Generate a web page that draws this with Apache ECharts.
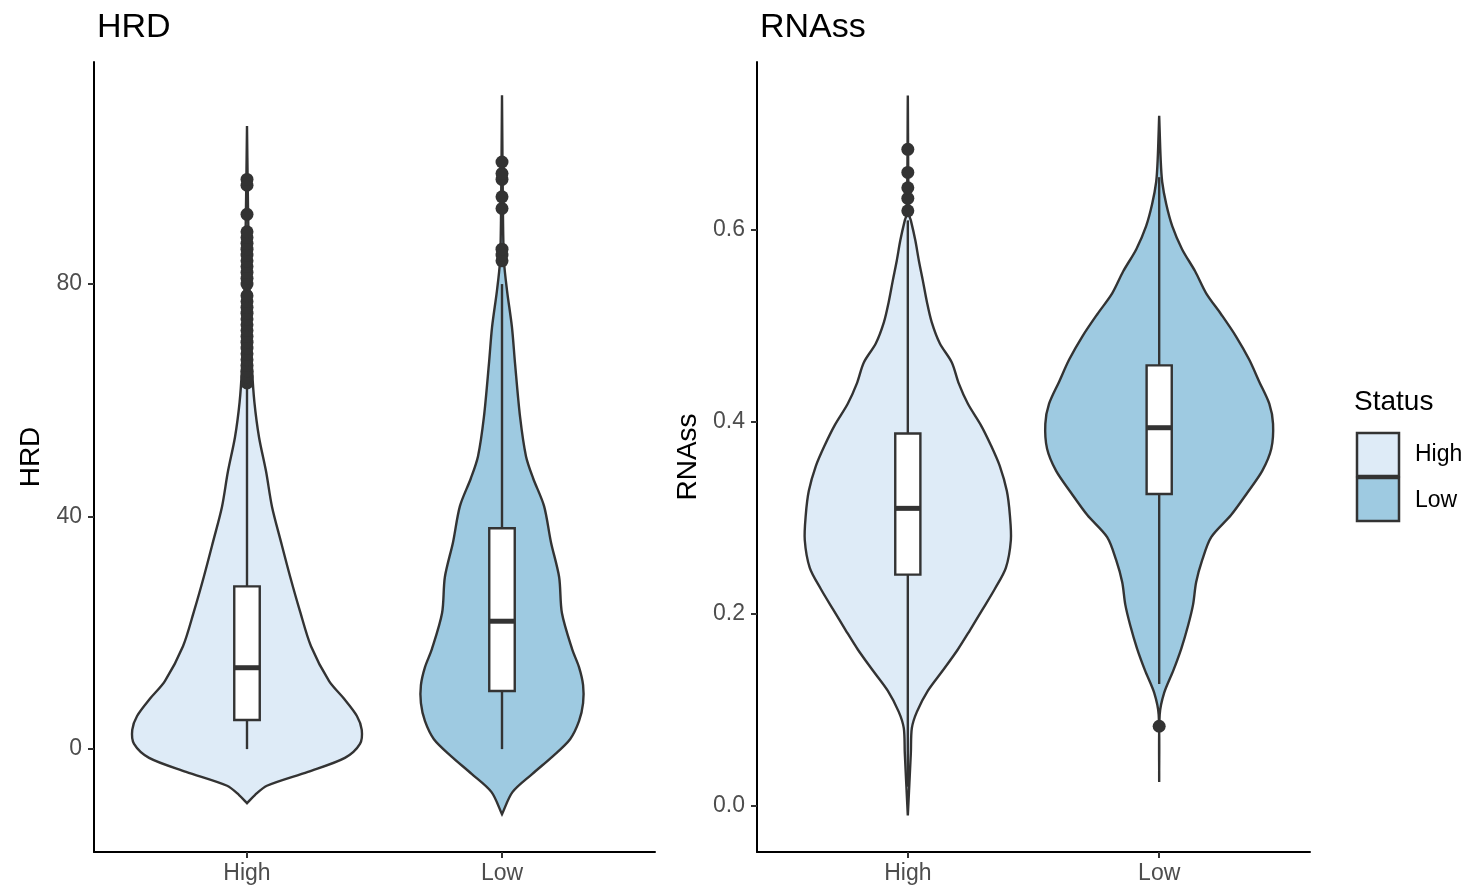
<!DOCTYPE html>
<html>
<head>
<meta charset="utf-8">
<script src="https://cdn.jsdelivr.net/npm/echarts@6/dist/echarts.min.js"></script>
<style>
  html, body { margin: 0; padding: 0; background: #fff; }
  #chart { width: 1469px; height: 891px; }
</style>
</head>
<body>
<div id="chart"></div>
<script>
// groups on the x axis (positions 1 and 2)
const groups = ["High", "Low"];
const fills = ["#DEEBF7", "#9ECAE1"];

// violin outlines: value and half width (x-axis units)
const hrdHighY = [-9.3, -7.9, -6.3, -3.9, -1.5, 0.9, 3.3, 5.7, 8.7, 11.7, 17.7, 23.7, 29.7, 35.7, 41.7, 47.7, 53.7, 59.7, 65.2, 72.1, 79, 87.6, 96.2, 107.2];
const hrdHighW = [0, 0.031, 0.078, 0.239, 0.384, 0.443, 0.45, 0.431, 0.38, 0.322, 0.251, 0.208, 0.169, 0.133, 0.098, 0.075, 0.047, 0.029, 0.02, 0.014, 0.01, 0.006, 0.003, 0];
const hrdLowY = [-11.2, -7.4, -4.3, -1.2, 1.7, 4.8, 7.9, 11.0, 14.1, 17.2, 23.4, 29.6, 35.6, 41.8, 46.6, 50.4, 57.1, 66.4, 72.6, 78.8, 83.8, 91, 112.5];
const hrdLowW = [0, 0.041, 0.118, 0.2, 0.267, 0.302, 0.318, 0.318, 0.302, 0.275, 0.235, 0.224, 0.192, 0.165, 0.122, 0.094, 0.071, 0.051, 0.039, 0.02, 0.008, 0.004, 0];
const rnaHighY = [-0.010, 0.055, 0.081, 0.098, 0.120, 0.141, 0.163, 0.183, 0.205, 0.226, 0.248, 0.277, 0.303, 0.328, 0.354, 0.376, 0.397, 0.419, 0.440, 0.462, 0.482, 0.504, 0.525, 0.547, 0.568, 0.589, 0.610, 0.617, 0.740];
const rnaHighW = [0, 0.012, 0.016, 0.036, 0.08, 0.139, 0.199, 0.247, 0.298, 0.346, 0.39, 0.41, 0.406, 0.394, 0.366, 0.33, 0.29, 0.239, 0.203, 0.175, 0.127, 0.095, 0.076, 0.06, 0.044, 0.03, 0.012, 0.004, 0];
const rnaLowY = [0.025, 0.095, 0.118, 0.141, 0.164, 0.188, 0.210, 0.233, 0.256, 0.280, 0.303, 0.326, 0.349, 0.372, 0.398, 0.419, 0.442, 0.465, 0.489, 0.512, 0.534, 0.557, 0.580, 0.604, 0.627, 0.650, 0.673, 0.719];
const rnaLowW = [0, 0.002, 0.02, 0.056, 0.088, 0.115, 0.135, 0.147, 0.171, 0.207, 0.286, 0.35, 0.41, 0.446, 0.453, 0.438, 0.398, 0.358, 0.306, 0.247, 0.187, 0.143, 0.091, 0.052, 0.028, 0.012, 0.006, 0];

// box stats: [lower whisker, Q1, median, Q3, upper whisker]
const hrdBox = [[0, 5, 14, 28, 62], [0, 10, 22, 38, 80]];
const rnaBox = [[0.02, 0.241, 0.310, 0.388, 0.61], [0.127, 0.325, 0.394, 0.459, 0.655]];

// outliers
const hrdHighOut = [63, 64, 65, 66, 67, 68, 69, 70, 71, 72, 73, 74, 75, 76, 77, 78, 80, 81, 82, 83, 84, 85, 86, 87, 88, 89, 92, 97, 98];
const hrdLowOut = [84, 85, 86, 93, 95, 98, 99, 101];
const rnaHighOut = [0.620, 0.633, 0.644, 0.660, 0.684];
const rnaLowOut = [0.083];

// axis ticks
const hrdTicks = [0, 40, 80];
const rnaTicks = [0, 0.2, 0.4, 0.6];

const FONT = "Liberation Sans, Arial, Helvetica, sans-serif";
const INK = "#333333";
const LW = 2.4;

function violin(gridIdx, x, ys, ws, color) {
  return {
    type: "custom",
    xAxisIndex: gridIdx,
    yAxisIndex: gridIdx,
    data: [[x, ys[0]]],
    z: 1,
    renderItem: (params, api) => {
      const right = ys.map((v, i) => api.coord([x + ws[i], v]));
      const left = ys.map((v, i) => api.coord([x - ws[i], v])).reverse();
      return {
        type: "polygon",
        shape: { points: right.concat(left), smooth: 0.3 },
        style: { fill: color, stroke: INK, lineWidth: LW }
      };
    }
  };
}

function boxes(gridIdx, stats) {
  return {
    type: "custom",
    xAxisIndex: gridIdx,
    yAxisIndex: gridIdx,
    data: stats.map((s, i) => [i + 1].concat(s)),
    z: 2,
    renderItem: (params, api) => {
      const x = api.value(0);
      const lo = api.value(1), q1 = api.value(2), md = api.value(3), q3 = api.value(4), hi = api.value(5);
      const hw = 0.05;
      const a = api.coord([x, lo]), b = api.coord([x, q1]);
      const c = api.coord([x, q3]), d = api.coord([x, hi]);
      const tl = api.coord([x - hw, q3]), br = api.coord([x + hw, q1]);
      const ml = api.coord([x - hw, md]), mr = api.coord([x + hw, md]);
      const line = { stroke: INK, lineWidth: LW };
      return {
        type: "group",
        children: [
          { type: "line", shape: { x1: a[0], y1: a[1], x2: b[0], y2: b[1] }, style: line },
          { type: "line", shape: { x1: c[0], y1: c[1], x2: d[0], y2: d[1] }, style: line },
          { type: "rect", shape: { x: tl[0], y: tl[1], width: br[0] - tl[0], height: br[1] - tl[1] }, style: { fill: "#fff", stroke: INK, lineWidth: LW } },
          { type: "line", shape: { x1: ml[0], y1: ml[1], x2: mr[0], y2: mr[1] }, style: { stroke: INK, lineWidth: 5 } }
        ]
      };
    }
  };
}

function outliers(gridIdx, x, vals) {
  return {
    type: "scatter",
    xAxisIndex: gridIdx,
    yAxisIndex: gridIdx,
    data: vals.map((v) => [x, v]),
    symbolSize: 13,
    itemStyle: { color: INK, opacity: 1 },
    z: 3
  };
}

function xAxisFor(gridIdx) {
  return {
    type: "value",
    gridIndex: gridIdx,
    min: 0.4,
    max: 2.6,
    splitLine: { show: false },
    axisLine: { show: true, onZero: false, lineStyle: { color: "#000", width: 2 } },
    axisTick: { show: true, customValues: [1, 2], length: 6, lineStyle: { color: INK, width: 2 } },
    axisLabel: {
      customValues: [1, 2],
      formatter: (v) => groups[Math.round(v) - 1],
      fontFamily: FONT, fontSize: 23, color: "#4d4d4d", margin: 10
    }
  };
}

function yAxisFor(gridIdx, min, max, ticks, name, gap, digits) {
  return {
    type: "value",
    gridIndex: gridIdx,
    min: min,
    max: max,
    name: name,
    nameLocation: "middle",
    nameGap: gap,
    nameTextStyle: { fontFamily: FONT, fontSize: 28, color: "#000" },
    splitLine: { show: false },
    axisLine: { show: true, onZero: false, lineStyle: { color: "#000", width: 2 } },
    axisTick: { show: true, customValues: ticks, length: 6, lineStyle: { color: INK, width: 2 } },
    axisLabel: {
      customValues: ticks,
      formatter: (v) => v.toFixed(digits),
      fontFamily: FONT, fontSize: 23, color: "#4d4d4d", margin: 12
    }
  };
}

const chart = echarts.init(document.getElementById("chart"), null, { renderer: "canvas" });

chart.setOption({
  animation: false,
  backgroundColor: "#fff",
  title: [
    { text: "HRD", left: 92, top: 6, textStyle: { fontFamily: FONT, fontSize: 34, fontWeight: "normal", color: "#000" } },
    { text: "RNAss", left: 755, top: 6, textStyle: { fontFamily: FONT, fontSize: 34, fontWeight: "normal", color: "#000" } }
  ],
  grid: [
    { left: 94, top: 62, width: 561, height: 790 },
    { left: 757, top: 62, width: 553, height: 790 }
  ],
  xAxis: [xAxisFor(0), xAxisFor(1)],
  yAxis: [
    yAxisFor(0, -17.7, 118.2, hrdTicks, "HRD", 49, 0),
    yAxisFor(1, -0.048, 0.775, rnaTicks, "RNAss", 55, 1)
  ],
  series: [
    violin(0, 1, hrdHighY, hrdHighW, fills[0]),
    violin(0, 2, hrdLowY, hrdLowW, fills[1]),
    boxes(0, hrdBox),
    outliers(0, 1, hrdHighOut),
    outliers(0, 2, hrdLowOut),
    violin(1, 1, rnaHighY, rnaHighW, fills[0]),
    violin(1, 2, rnaLowY, rnaLowW, fills[1]),
    boxes(1, rnaBox),
    outliers(1, 1, rnaHighOut),
    outliers(1, 2, rnaLowOut)
  ],
  graphic: [
    { type: "text", left: 1354, top: 388, style: { text: "Status", fontFamily: FONT, fontSize: 28, fill: "#000" } },
    { type: "rect", shape: { x: 1357, y: 433, width: 42, height: 43 }, style: { fill: fills[0], stroke: INK, lineWidth: 2.5 } },
    { type: "rect", shape: { x: 1357, y: 478, width: 42, height: 43 }, style: { fill: fills[1], stroke: INK, lineWidth: 2.5 } },
    { type: "text", left: 1415, top: 443, style: { text: groups[0], fontFamily: FONT, fontSize: 23, fill: "#000" } },
    { type: "text", left: 1415, top: 489, style: { text: groups[1], fontFamily: FONT, fontSize: 23, fill: "#000" } }
  ]
});
</script>
</body>
</html>
